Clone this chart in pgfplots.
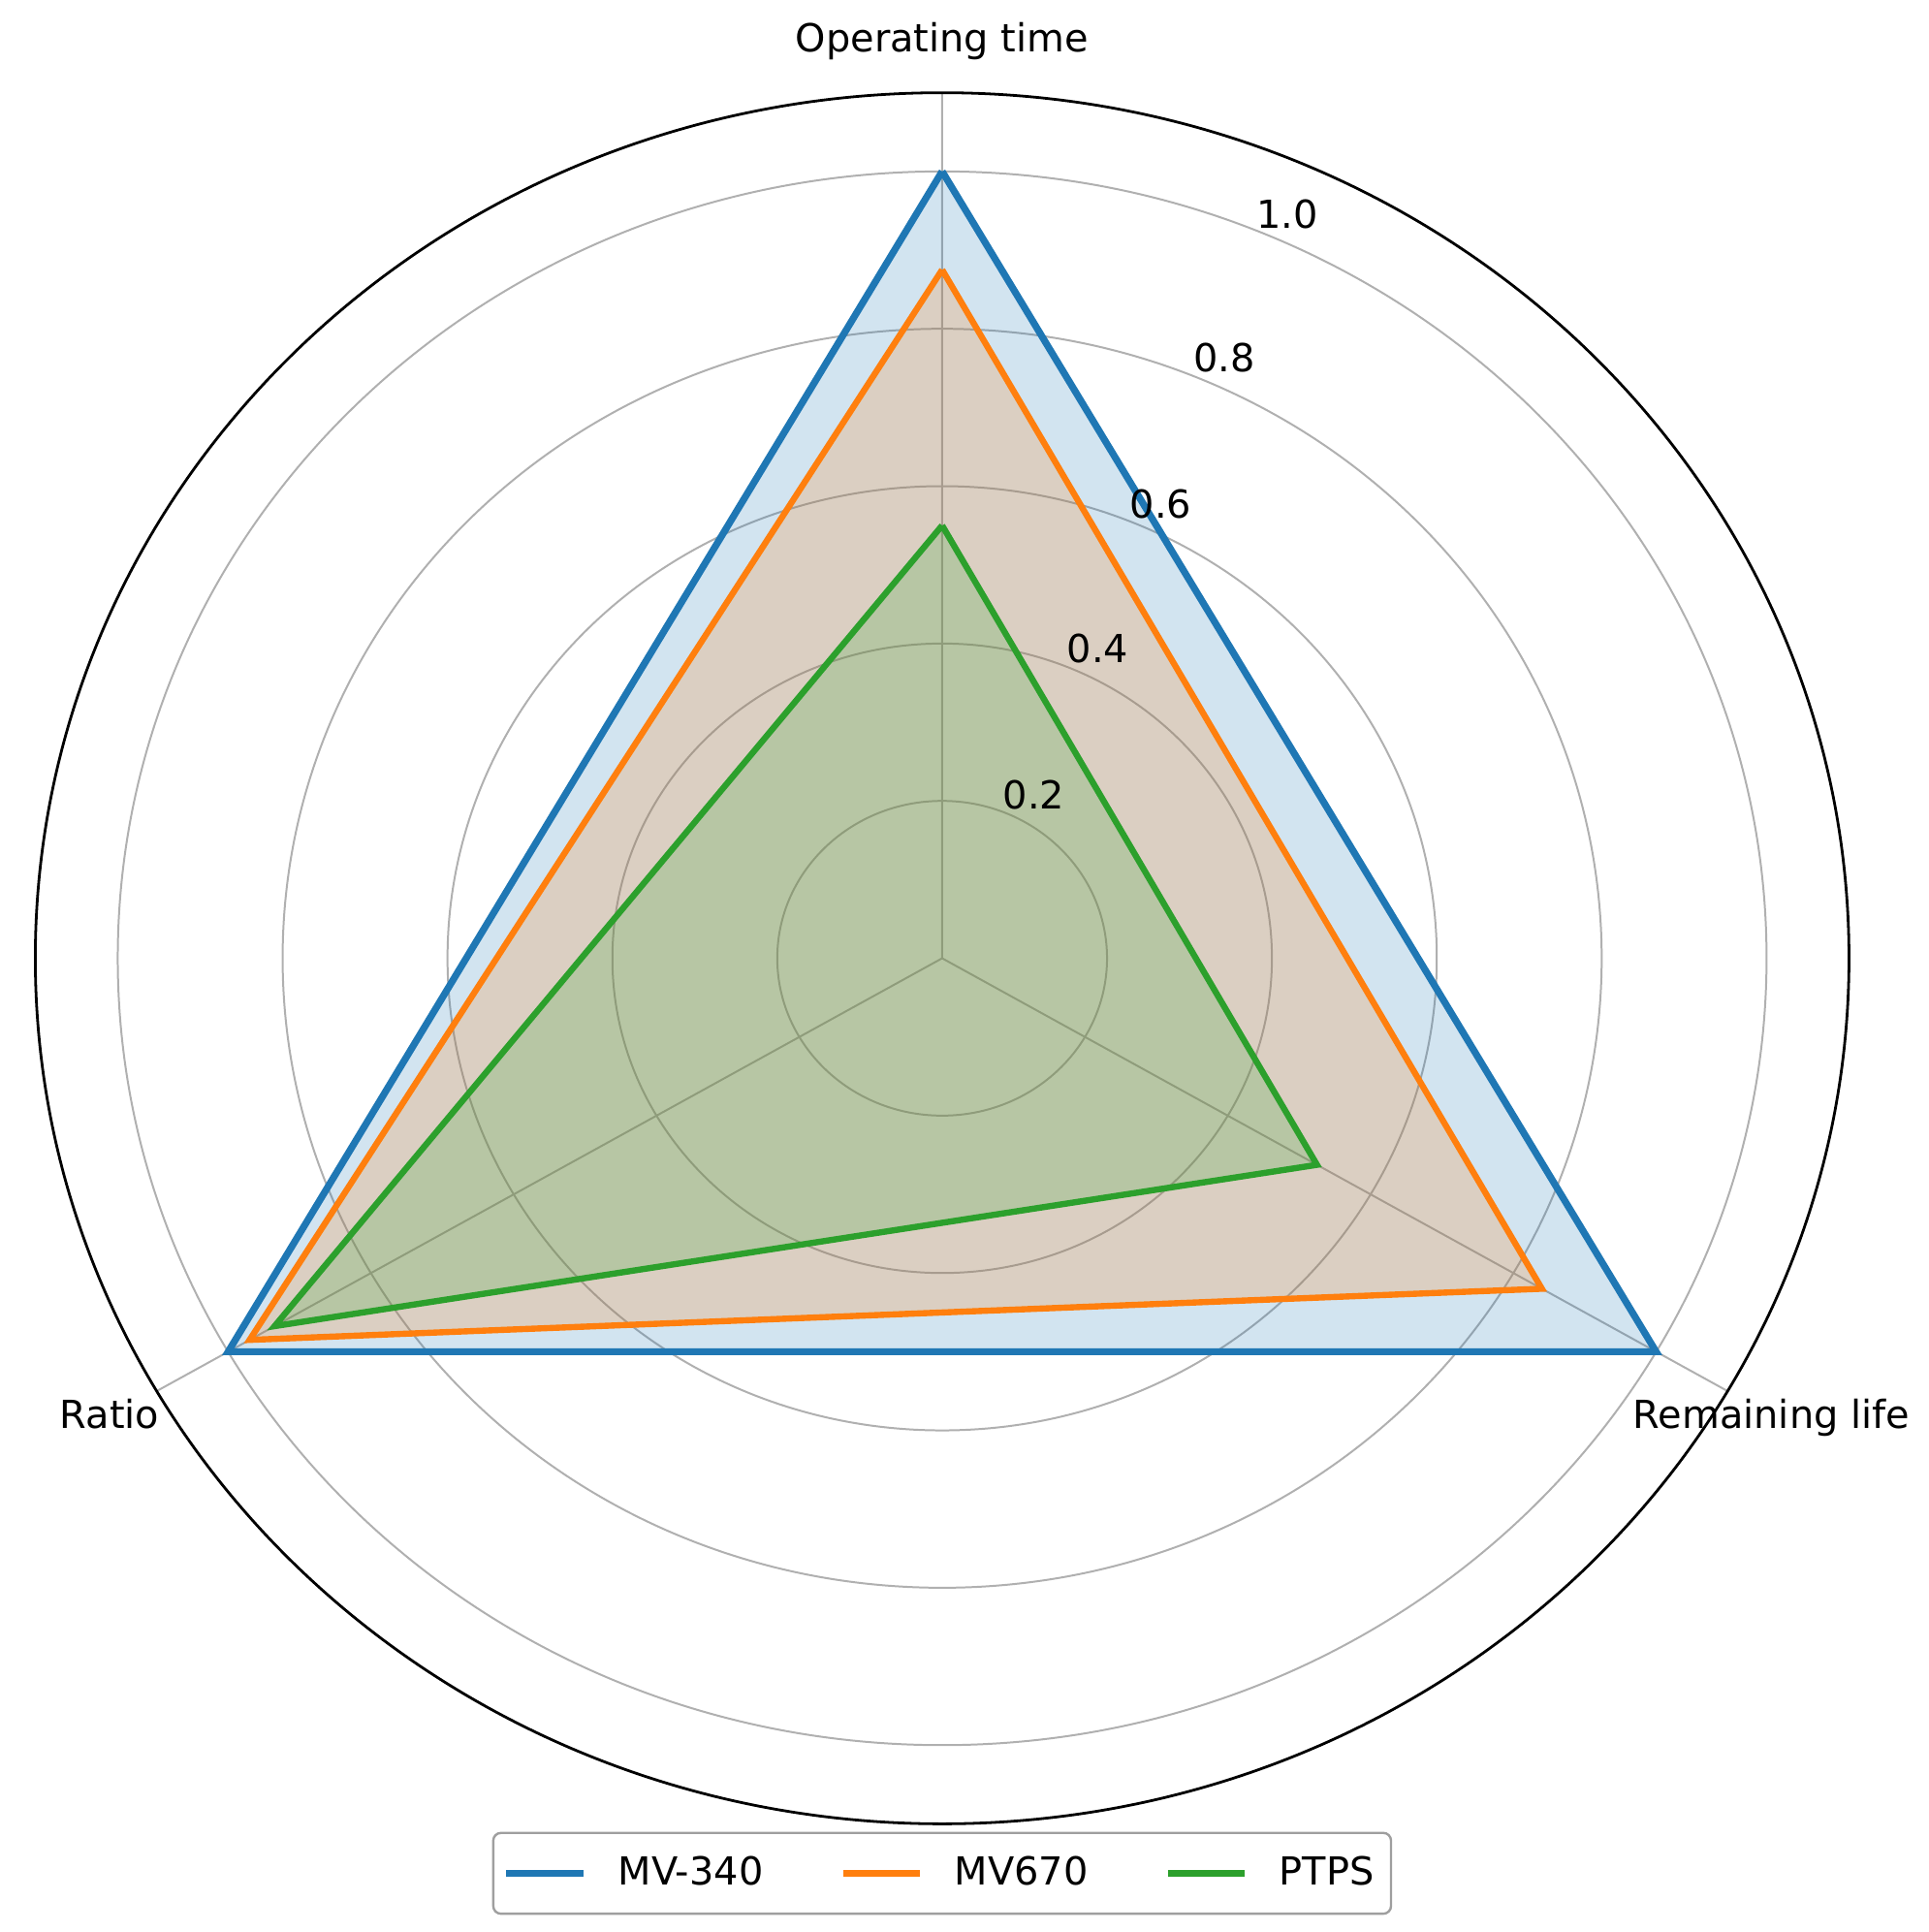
\documentclass[border=0pt]{standalone}
\usepackage{fontspec}
\setmainfont{DejaVu Sans}
\usepackage{pgfplots}
\pgfplotsset{compat=1.18}
\usepgfplotslibrary{polar}
\definecolor{tblue}{HTML}{1F77B4}
\definecolor{torange}{HTML}{FF7F0E}
\definecolor{tgreen}{HTML}{2CA02C}
\definecolor{gridgray}{HTML}{B0B0B0}
\begin{document}
\begin{tikzpicture}
\begin{polaraxis}[
  scale only axis, width=469.4pt, height=448pt,
  xmin=0, xmax=360, ymin=0, ymax=1.1,
  xtick={90,210,330}, xticklabels={},
  ytick={0.2,0.4,0.6,0.8,1.0}, yticklabels={},
  xmajorgrids, ymajorgrids,
  major grid style={draw=gridgray, line width=0.5pt},
  major tick length=0pt,
  x axis line style={black, line width=0.7pt},
  y axis line style={draw=none},
  legend columns=3,
  legend style={at={(0.5,-0.0286)}, anchor=center, draw=gray!75, line width=0.6pt, rounded corners=2pt,
    font=\fontsize{10}{12}\selectfont, inner xsep=2.4pt, inner ysep=4pt,
    /tikz/every odd column/.append style={column sep=6.1pt},
    /tikz/every even column/.append style={column sep=17.8pt}},
  legend image code/.code={\draw[#1] (0pt,0pt) -- (20pt,0pt);},
]
\coordinate (C) at (axis cs:0,0);
\addplot[draw=tblue, line width=1.8pt, fill=tblue, fill opacity=0.2, draw opacity=1]
  coordinates {(90,1.0) (330,1.0) (210,1.0) (90,1.0)};
\addlegendentry{MV-340}
\addplot[draw=torange, line width=1.6pt, fill=torange, fill opacity=0.2, draw opacity=1]
  coordinates {(90,0.875) (330,0.84) (210,0.97) (90,0.875)};
\addlegendentry{MV670}
\addplot[draw=tgreen, line width=1.6pt, fill=tgreen, fill opacity=0.2, draw opacity=1]
  coordinates {(90,0.55) (330,0.525) (210,0.935) (90,0.55)};
\addlegendentry{PTPS}
\end{polaraxis}
\node[anchor=base] at ([shift={(0pt,234.6pt)}]C) {Operating time};
\node[anchor=base] at ([shift={(-215.5pt,-121.6pt)}]C) {Ratio};
\node[anchor=base] at ([shift={(214.6pt,-121.6pt)}]C) {Remaining life};
\node[anchor=base] at ([shift={(23.7pt,38.7pt)}]C) {0.2};
\node[anchor=base] at ([shift={(40.3pt,76.5pt)}]C) {0.4};
\node[anchor=base] at ([shift={(56.6pt,113.9pt)}]C) {0.6};
\node[anchor=base] at ([shift={(73.0pt,151.7pt)}]C) {0.8};
\node[anchor=base] at ([shift={(89.3pt,188.8pt)}]C) {1.0};
\pgfresetboundingbox
\path ([shift={(-243.84pt,-252pt)}]C) rectangle ++(499.2pt,500pt);
\end{tikzpicture}
\end{document}
